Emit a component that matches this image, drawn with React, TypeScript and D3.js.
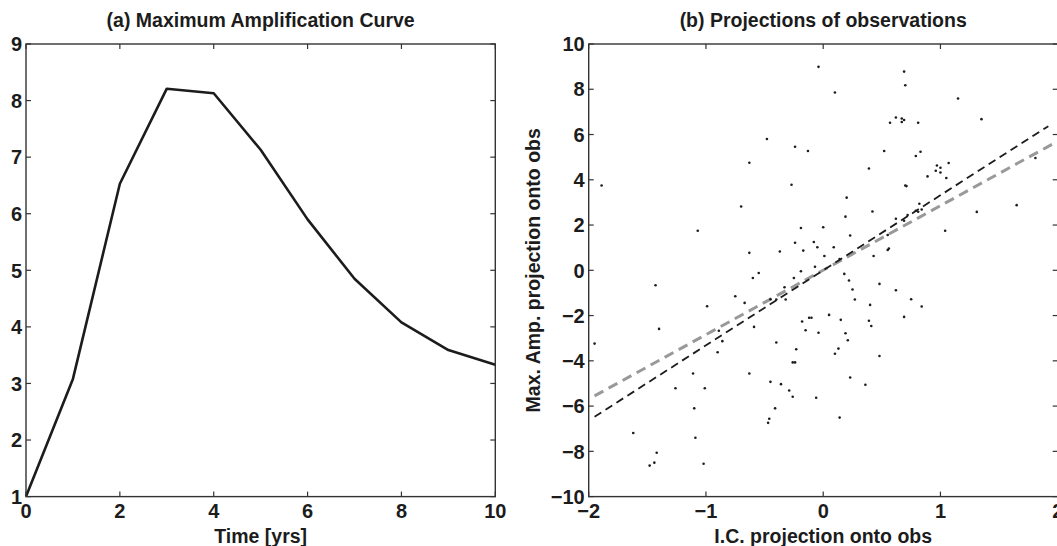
import React, { useRef, useEffect } from "react";
import * as d3 from "d3";

// panel (a): maximum amplification vs time
const years = [0, 1, 2, 3, 4, 5, 6, 7, 8, 9, 10];
const maxAmp = [1.0, 3.08, 6.53, 8.21, 8.13, 7.13, 5.9, 4.85, 4.08, 3.59, 3.33];
const ampXTicks = [0, 2, 4, 6, 8, 10];
const ampYTicks = [1, 2, 3, 4, 5, 6, 7, 8, 9];

// panel (b): projections of observations [I.C. proj, Max. Amp. proj]
const obsProj: [number, number][] = [
  [-1.95, -3.24], [-1.89, 3.75], [-1.62, -7.19], [-1.48, -8.63], [-1.44, -8.5], [-1.42, -8.06],
  [-1.43, -0.66], [-1.4, -2.59], [-1.26, -5.21], [-1.11, -4.56], [-1.1, -6.1], [-1.09, -7.4],
  [-1.07, 1.75], [-1.02, -8.55], [-1.01, -5.21], [-0.99, -1.59], [-0.9, -3.62], [-0.86, -3.13],
  [-0.89, -2.67], [-0.75, -1.15], [-0.67, -1.44], [-0.7, 2.82], [-0.63, 4.75], [-0.63, 0.77],
  [-0.6, -0.34], [-0.55, -0.12], [-0.59, -2.5], [-0.63, -4.56], [-0.48, 5.8], [-0.45, -1.28],
  [-0.4, -1.29], [-0.45, -4.93], [-0.46, -6.56], [-0.47, -6.74], [-0.41, -6.1], [-0.4, -3.19],
  [-0.37, 0.83], [-0.36, -5.03], [-0.33, -0.75], [-0.32, -1.29], [-0.29, -5.31], [-0.27, 3.78],
  [-0.26, -5.59], [-0.26, -4.07], [-0.24, -4.07], [-0.25, -0.34], [-0.24, 5.46], [-0.24, 1.22],
  [-0.23, -3.49], [-0.19, 1.87], [-0.19, -0.04], [-0.18, -2.26], [-0.17, 0.87], [-0.15, -2.65],
  [-0.13, 5.27], [-0.12, -2.1], [-0.1, -2.1], [-0.08, 1.25], [-0.07, 0.16], [-0.06, -5.63],
  [-0.05, 1.02], [-0.04, 8.99], [-0.04, -2.76], [0.0, 1.9], [0.01, 0.63], [0.05, -1.97],
  [0.1, 7.86], [0.09, 1.02], [0.1, -3.69], [0.13, -3.46], [0.14, 0.5], [0.14, -6.51],
  [0.15, -2.19], [0.18, -0.16], [0.19, 2.37], [0.19, -2.78], [0.2, 3.21], [0.21, -3.09],
  [0.22, -0.45], [0.23, 1.54], [0.23, -4.74], [0.25, -0.85], [0.27, -1.29], [0.36, -5.06],
  [0.39, 4.5], [0.39, -2.23], [0.4, -1.53], [0.41, -2.46], [0.42, 2.6], [0.43, 0.63],
  [0.48, -0.6], [0.48, -3.79], [0.52, 5.27], [0.55, 0.9], [0.56, 0.96], [0.55, 1.56],
  [0.57, 6.52], [0.62, 6.75], [0.67, 6.71], [0.67, 6.55], [0.69, 6.64], [0.81, 6.52],
  [0.62, 2.28], [0.62, -0.88], [0.69, 2.19], [0.69, 8.78], [0.7, 8.18], [0.7, 3.75],
  [0.71, 3.72], [0.69, -2.06], [0.72, 2.44], [0.75, -1.28], [0.79, 5.05], [0.83, 5.24],
  [0.84, -1.6], [0.79, 2.63], [0.81, 2.59], [0.84, 2.69], [0.82, 2.94], [0.89, 4.15],
  [0.96, 4.4], [0.97, 4.63], [1.0, 4.53], [1.0, 4.32], [1.05, 4.08], [1.07, 4.74],
  [1.04, 1.75], [1.15, 7.59], [1.31, 2.58], [1.35, 6.68], [1.65, 2.88], [1.81, 4.96],
];
// regression lines (end points)
const fitBlack: [number, number][] = [[-1.95, -6.47], [1.92, 6.37]];
const fitGray: [number, number][] = [[-1.95, -5.55], [1.96, 5.59]];
const projXTicks = [-2, -1, 0, 1, 2];
const projYTicks = [-10, -8, -6, -4, -2, 0, 2, 4, 6, 8, 10];

const FONT = "'Liberation Sans', Arial, Helvetica, sans-serif";
const INK = "#1c1c1c";

export default function App() {
  const svgRef = useRef<SVGSVGElement | null>(null);

  useEffect(() => {
    const svg = d3.select(svgRef.current);
    svg.selectAll("*").remove();

    const top = 44;
    const bottom = 496.6;

    // draws box, inward ticks and labels of one panel
    const frame = (x: any, y: any, xt: number[], yt: number[], title: string, xlab: string, ylab: string | null) => {
      const [x0, x1] = x.range();
      const g = svg.append("g");
      g.append("rect")
        .attr("x", x0).attr("y", top)
        .attr("width", x1 - x0).attr("height", bottom - top)
        .attr("fill", "none").attr("stroke", "#333").attr("stroke-width", 1.4);
      const tl = 5;
      xt.forEach(t => {
        const px = x(t);
        g.append("line").attr("x1", px).attr("x2", px).attr("y1", bottom).attr("y2", bottom - tl)
          .attr("stroke", "#333").attr("stroke-width", 1.2);
        g.append("line").attr("x1", px).attr("x2", px).attr("y1", top).attr("y2", top + tl)
          .attr("stroke", "#333").attr("stroke-width", 1.2);
        g.append("text").attr("x", px).attr("y", bottom + 21)
          .attr("text-anchor", "middle").attr("font-family", FONT).attr("font-weight", "bold")
          .attr("font-size", 20).attr("fill", INK).text(d3.format("")(t));
      });
      yt.forEach(t => {
        const py = y(t);
        g.append("line").attr("x1", x0).attr("x2", x0 + tl).attr("y1", py).attr("y2", py)
          .attr("stroke", "#333").attr("stroke-width", 1.2);
        g.append("line").attr("x1", x1).attr("x2", x1 - tl).attr("y1", py).attr("y2", py)
          .attr("stroke", "#333").attr("stroke-width", 1.2);
        g.append("text").attr("x", x0 - 4).attr("y", py).attr("dy", "0.36em")
          .attr("text-anchor", "end").attr("font-family", FONT).attr("font-weight", "bold")
          .attr("font-size", 20).attr("fill", INK).text(d3.format("")(t));
      });
      g.append("text").attr("x", (x0 + x1) / 2).attr("y", 27)
        .attr("text-anchor", "middle").attr("font-family", FONT).attr("font-weight", "bold")
        .attr("font-size", 19.5).attr("fill", INK).text(title);
      g.append("text").attr("x", (x0 + x1) / 2).attr("y", 543)
        .attr("text-anchor", "middle").attr("font-family", FONT).attr("font-weight", "bold")
        .attr("font-size", 19.5).attr("fill", INK).text(xlab);
      if (ylab) {
        g.append("text")
          .attr("transform", `translate(${x0 - 49},${(top + bottom) / 2}) rotate(-90)`)
          .attr("text-anchor", "middle").attr("font-family", FONT).attr("font-weight", "bold")
          .attr("font-size", 19.5).attr("fill", INK).text(ylab);
      }
      return g;
    };

    // (a)
    const xa = d3.scaleLinear().domain([0, 10]).range([26, 495.3]);
    const ya = d3.scaleLinear().domain([1, 9]).range([bottom, top]);
    const line = d3.line<number>().x((_, i) => xa(years[i])).y(d => ya(d));
    svg.append("path").datum(maxAmp).attr("d", line)
      .attr("fill", "none").attr("stroke", INK).attr("stroke-width", 2.6).attr("stroke-linejoin", "round");
    frame(xa, ya, ampXTicks, ampYTicks, "(a) Maximum Amplification Curve", "Time [yrs]", null);

    // (b)
    const xb = d3.scaleLinear().domain([-2, 2]).range([588.7, 1057.7]);
    const yb = d3.scaleLinear().domain([-10, 10]).range([bottom, top]);
    const seg = d3.line<[number, number]>().x(d => xb(d[0])).y(d => yb(d[1]));
    svg.append("path").datum(fitGray).attr("d", seg)
      .attr("fill", "none").attr("stroke", "#999").attr("stroke-width", 3)
      .attr("stroke-dasharray", "10,6");
    svg.append("path").datum(fitBlack).attr("d", seg)
      .attr("fill", "none").attr("stroke", INK).attr("stroke-width", 1.8)
      .attr("stroke-dasharray", "8,5");
    svg.append("g").selectAll("circle").data(obsProj).enter().append("circle")
      .attr("cx", d => xb(d[0])).attr("cy", d => yb(d[1])).attr("r", 1.3).attr("fill", INK);
    frame(xb, yb, projXTicks, projYTicks, "(b) Projections of observations",
      "I.C. projection onto obs", "Max. Amp. projection onto obs");
  }, []);

  return (
    <div style={{ position: "absolute", left: 0, top: 0, width: 1057, height: 546, background: "#fff" }}>
      <svg ref={svgRef} width={1057} height={546} style={{ display: "block" }}></svg>
    </div>
  );
}
